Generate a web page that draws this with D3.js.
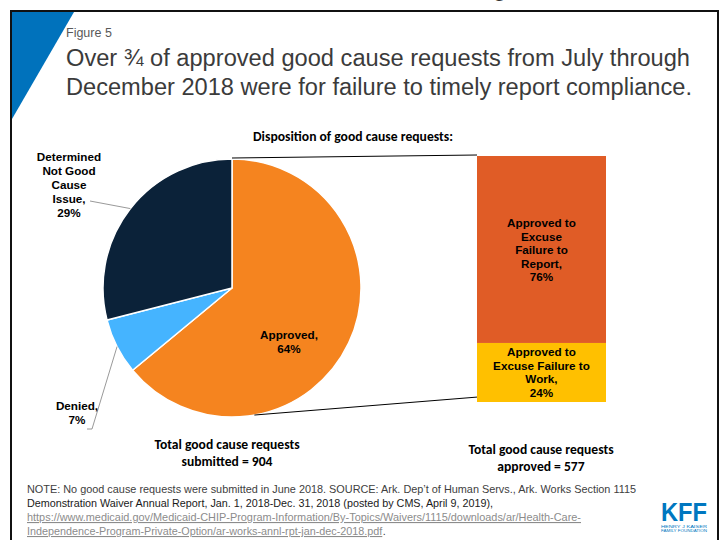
<!DOCTYPE html>
<html>
<head>
<meta charset="utf-8">
<script src="https://cdn.jsdelivr.net/npm/d3@7"></script>
<style>
  html, body { margin: 0; padding: 0; background: #fff; }
  svg { display: block; }
</style>
</head>
<body>
<svg id="chart" width="720" height="540"></svg>
<script>
// ---- Data ----
const pieCategories = ["Approved", "Denied", "Determined Not Good Cause Issue"];
const pieValues = [64, 7, 29];
const pieLabels = [["Approved,", "64%"], ["Denied,", "7%"], ["Determined", "Not Good", "Cause", "Issue,", "29%"]];

const barCategories = ["Approved to Excuse Failure to Work", "Approved to Excuse Failure to Report"];
const barValues = [24, 76];
const barLabels = [["Approved to", "Excuse Failure to", "Work,", "24%"], ["Approved to", "Excuse", "Failure to", "Report,", "76%"]];

const totalSubmitted = 904;
const totalApproved = 577;

const titleLines = [
  "Over \u00BE of approved good cause requests from July through",
  "December 2018 were for failure to timely report compliance."
];
const noteLines = [
  "NOTE:  No good cause requests were submitted in June 2018. SOURCE: Ark. Dep\u2019t of Human Servs., Ark. Works Section 1115",
  "Demonstration Waiver Annual Report, Jan. 1, 2018-Dec. 31, 2018 (posted by CMS, April 9, 2019),",
  "https://www.medicaid.gov/Medicaid-CHIP-Program-Information/By-Topics/Waivers/1115/downloads/ar/Health-Care-",
  "Independence-Program-Private-Option/ar-works-annl-rpt-jan-dec-2018.pdf"
];

// ---- Styles ----
const pieColors = d3.scaleOrdinal().domain(pieCategories).range(["#F5841F", "#45B4FF", "#0B2239"]);
const barColors = d3.scaleOrdinal().domain(barCategories).range(["#FFC000", "#E05C26"]);
const ARIAL = "'Liberation Sans', Arial, sans-serif";
const NARROW = "'Liberation Sans Narrow', 'Liberation Sans', Arial, sans-serif";
const CALIBRI = "Carlito, Lato, 'Open Sans', sans-serif";

const svg = d3.select("#chart");

// ---- Slide frame (bottom of the previous slide's text peeks in at the top) ----
svg.append("text").attr("x", 74).attr("y", -4).attr("font-family", ARIAL).attr("font-size", 24).attr("fill", "#333").text(",");
svg.append("text").attr("x", 493).attr("y", -4).attr("font-family", ARIAL).attr("font-size", 24).attr("fill", "#333").text("g");
svg.append("text").attr("x", 707).attr("y", -4).attr("font-family", ARIAL).attr("font-size", 24).attr("fill", "#333").text(",");

svg.append("path")
  .attr("d", "M12,12 L74,12 L12,119 Z")
  .attr("fill", "#0072BC");
svg.append("path")
  .attr("d", "M11,540 L11,11 L718,11 L718,540")
  .attr("fill", "none").attr("stroke", "#111").attr("stroke-width", 2);

// ---- Titles ----
svg.append("text").attr("x", 66).attr("y", 37)
  .attr("font-family", NARROW).attr("font-size", 12.5).attr("fill", "#595959")
  .text("Figure 5");

svg.selectAll("text.title").data(titleLines).join("text")
  .attr("class", "title")
  .attr("x", 66).attr("y", (d, i) => 66 + i * 29)
  .attr("font-family", ARIAL).attr("font-size", 23.5).attr("fill", "#3B3B3B")
  .attr("textLength", (d, i) => i === 0 ? 624 : 626)
  .attr("lengthAdjust", "spacingAndGlyphs")
  .text(d => d);

svg.append("text").attr("x", 353).attr("y", 141)
  .attr("text-anchor", "middle").attr("font-family", CALIBRI).attr("font-weight", "bold")
  .attr("font-size", 13.2).attr("fill", "#000")
  .attr("textLength", 200).attr("lengthAdjust", "spacingAndGlyphs")
  .text("Disposition of good cause requests:");

// ---- Pie ----
const cx = 232, cy = 288, R = 129;
const pie = d3.pie().sort(null).value(d => d.value);
const arcs = pie(pieCategories.map((c, i) => ({ cat: c, value: pieValues[i], label: pieLabels[i] })));
const arc = d3.arc().innerRadius(0).outerRadius(R);
const edge = a => [cx + R * Math.sin(a), cy - R * Math.cos(a)];

const gPie = svg.append("g").attr("transform", `translate(${cx},${cy})`);
gPie.selectAll("path").data(arcs).join("path")
  .attr("d", arc)
  .attr("fill", d => pieColors(d.data.cat))
  .attr("stroke", "#fff").attr("stroke-width", 1.5);

// ---- Stacked bar of approved requests ----
const y = d3.scaleLinear().domain([0, 100]).range([402, 156]);
const x = d3.scaleBand().domain(["approved"]).range([477, 606]);
const stacked = d3.stack().keys(barCategories)([Object.fromEntries(barCategories.map((c, i) => [c, barValues[i]]))]);

svg.append("g").selectAll("rect").data(stacked).join("rect")
  .attr("x", x("approved")).attr("width", x.bandwidth())
  .attr("y", d => y(d[0][1])).attr("height", d => y(d[0][0]) - y(d[0][1]))
  .attr("fill", d => barColors(d.key));

// connector lines from the approved slice to the bar
const topPt = edge(arcs[0].startAngle);
const botPt = edge(Math.PI * 170 / 180);
svg.append("line").attr("x1", topPt[0]).attr("y1", topPt[1] - 1).attr("x2", x("approved")).attr("y2", y(100) - 1)
  .attr("stroke", "#000").attr("stroke-width", 1);
svg.append("line").attr("x1", botPt[0]).attr("y1", botPt[1]).attr("x2", x("approved")).attr("y2", y(2))
  .attr("stroke", "#000").attr("stroke-width", 1);

// ---- Labels ----
function multiline(lines, xPos, y0, step, opts) {
  const t = svg.append("text")
    .attr("text-anchor", "middle")
    .attr("font-family", opts.family).attr("font-weight", "bold")
    .attr("font-size", opts.size).attr("fill", opts.fill || "#000");
  lines.forEach((l, i) => t.append("tspan").attr("x", xPos).attr("y", y0 + i * step).text(l));
  return t;
}
const lab = { family: ARIAL, size: 11.7 };

// Approved
multiline(arcs[0].data.label, 289, 339, 13.5, lab);
// Denied with leader
const dMid = (arcs[1].startAngle + arcs[1].endAngle) / 2;
const dp = edge(dMid);
svg.append("polyline").attr("points", `${dp[0]},${dp[1]} 92,429 87,429`)
  .attr("fill", "none").attr("stroke", "#7F7F7F").attr("stroke-width", 0.8);
multiline(arcs[1].data.label, 77, 410, 13.5, lab);
// Determined with leader
const np = edge(Math.PI * 308 / 180);
svg.append("line").attr("x1", np[0]).attr("y1", np[1]).attr("x2", 90).attr("y2", 201)
  .attr("stroke", "#7F7F7F").attr("stroke-width", 0.8);
multiline(arcs[2].data.label, 69, 161, 14, lab);

// bar segment labels
const bx = x("approved") + x.bandwidth() / 2;
multiline(barLabels[1], bx, 227, 13.6, lab);
multiline(barLabels[0], bx, 356, 13.6, lab);

// totals
const tot = { family: CALIBRI, size: 13.6 };
multiline(["Total good cause requests", `submitted = ${totalSubmitted}`], 227, 449, 17, tot);
multiline(["Total good cause requests", `approved = ${totalApproved}`], 541, 454, 17, tot);

// ---- Notes ----
const noteWidths = [609, 466, 554];
noteLines.slice(0, 3).forEach((l, i) => {
  svg.append("text").attr("x", 27).attr("y", 493 + i * 14)
    .attr("font-family", NARROW).attr("font-size", 11)
    .attr("fill", i === 2 ? "#8C8C8C" : (i === 1 ? "#1A1A1A" : "#404040"))
    .attr("textLength", noteWidths[i]).attr("lengthAdjust", "spacingAndGlyphs")
    .attr("text-decoration", i === 2 ? "underline" : null)
    .text(l);
});
// last link line: size the font so the line spans its natural width, then add the period
const last = svg.append("text").attr("x", 27).attr("y", 493 + 3 * 14)
  .attr("font-family", NARROW).attr("font-size", 11).attr("fill", "#8C8C8C")
  .attr("text-decoration", "underline")
  .text(noteLines[3]);
const natural = last.node().getComputedTextLength();
const fs = 11 * 356 / natural;
last.attr("font-size", fs);
const endX = 27 + last.node().getComputedTextLength();
svg.append("text").attr("x", endX + 0.5).attr("y", 493 + 3 * 14)
  .attr("font-family", NARROW).attr("font-size", fs).attr("fill", "#404040").text(".");

// ---- Logo ----
svg.append("text").attr("x", 684).attr("y", 521)
  .attr("text-anchor", "middle").attr("font-family", NARROW).attr("font-weight", "bold")
  .attr("font-size", 25).attr("fill", "#0077C0")
  .attr("textLength", 46).attr("lengthAdjust", "spacingAndGlyphs")
  .text("KFF");
svg.append("text").attr("x", 684).attr("y", 528)
  .attr("text-anchor", "middle").attr("font-family", ARIAL).attr("font-size", 3.5).attr("fill", "#0077C0")
  .attr("textLength", 46).attr("lengthAdjust", "spacingAndGlyphs")
  .text("HENRY J KAISER");
svg.append("text").attr("x", 684).attr("y", 532)
  .attr("text-anchor", "middle").attr("font-family", ARIAL).attr("font-size", 3.5).attr("fill", "#0077C0")
  .attr("textLength", 46).attr("lengthAdjust", "spacingAndGlyphs")
  .text("FAMILY FOUNDATION");
</script>
</body>
</html>
